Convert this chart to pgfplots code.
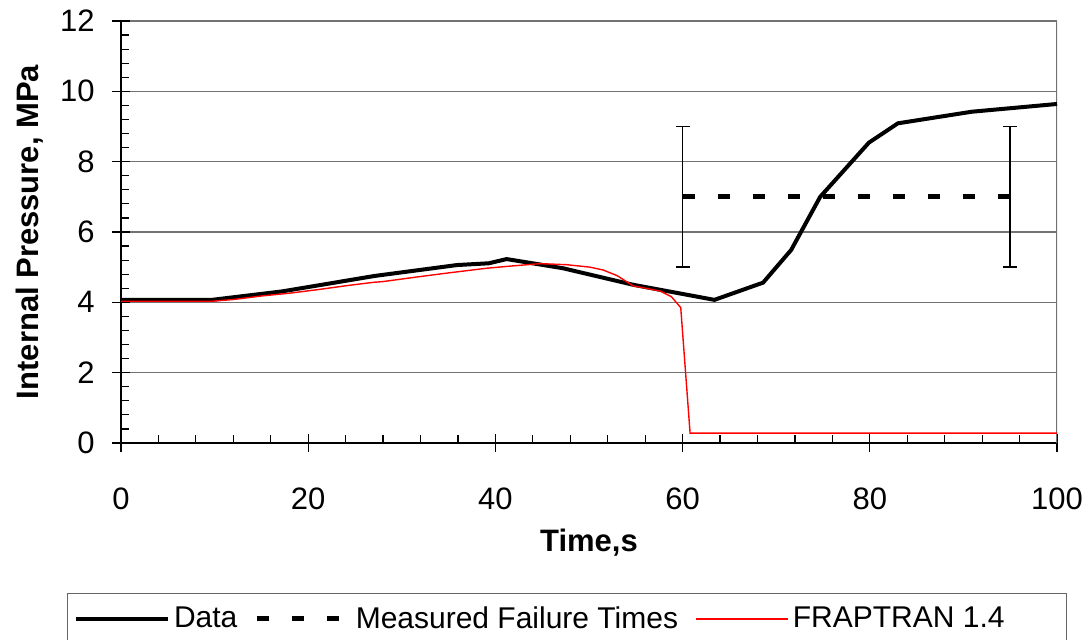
\documentclass[border=0pt]{standalone}
\usepackage{pgfplots}
\pgfplotsset{compat=1.18}
\usepackage{fontspec}
\setmainfont{Liberation Sans}
\begin{document}
\begin{tikzpicture}
\useasboundingbox (0,0) rectangle (543pt,320pt);
\begin{axis}[
  at={(60.5pt,98.5pt)}, anchor=south west,
  scale only axis, width=468pt, height=211pt,
  xmin=0, xmax=100, ymin=0, ymax=12,
  axis lines=left,
  axis line style={-, line width=0.75pt, black},
  xtick={0,20,...,100}, ytick={0,2,...,12},
  minor x tick num=4, minor y tick num=4,
  tick align=center,
  major tick length=9pt, minor tick length=4pt,
  tick style={black, line width=0.6pt},
  every minor x tick/.append style={yshift=2pt},
  every minor y tick/.append style={xshift=2pt},
  ymajorgrids,
  major grid style={black!55, line width=0.6pt},
  /pgf/number format/assume math mode=true,
  tick label style={font=\fontsize{15.5}{18}\selectfont, inner sep=0pt},
  xticklabel style={anchor=center, yshift=-23.25pt},
  yticklabel style={anchor=east, xshift=-8.5pt},
  xlabel={\bfseries Time,s},
  ylabel={\bfseries Internal Pressure, MPa},
  label style={font=\fontsize{15.5}{18}\selectfont},
  xlabel style={at={(axis description cs:0.5,-0.237)}, anchor=center},
  ylabel style={at={(axis description cs:-0.0972,0.5)}, anchor=center},
  legend columns=3,
  legend image code/.code={\draw[#1] (0pt,0pt) -- (46pt,0pt);},
  legend style={at={(axis description cs:-0.0577,-0.3555)}, anchor=north west,
    draw=black!60, line width=0.6pt, inner xsep=3pt, inner ysep=6.5pt,
    font=\fontsize{15}{18}\selectfont,
    nodes={inner sep=0pt},
    /tikz/every odd column/.append style={column sep=2.2pt},
    /tikz/every even column/.append style={column sep=8.5pt}},
]
\draw[black!55, line width=0.6pt] (rel axis cs:1,0) -- (rel axis cs:1,1);

\addplot[black, line width=2pt] coordinates {
(0,4.07) (9.7,4.07) (17.2,4.31) (27.1,4.75) (35.9,5.06) (39.3,5.11) (41.2,5.23)
(47.2,4.97) (54.7,4.50) (63.4,4.07) (68.6,4.56) (71.6,5.49) (74.7,7.0)
(79.9,8.54) (83.0,9.09) (90.9,9.42) (100,9.64)};
\addlegendentry{Data}

\addplot[black, line width=2.5pt, dash pattern=on 6pt off 11.5pt,
  error bars/.cd, y dir=both, y explicit,
  error bar style={solid, line width=0.75pt},
  error mark options={solid, rotate=90, mark size=3.5pt, line width=0.75pt}]
  coordinates {(60,7) +- (0,2) (95,7) +- (0,2)};
\addlegendentry{Measured Failure Times}

\addplot[red, line width=0.7pt] coordinates {
(0,4.03) (9.7,4.03) (12,4.08) (15,4.18) (18,4.26) (21,4.36) (24,4.47) (27,4.57)
(28,4.59) (31.6,4.72) (35.1,4.84) (39.1,4.97) (41.6,5.03) (44.8,5.10) (47.6,5.07)
(50.1,5.00) (51.5,4.92) (53.0,4.76) (54.7,4.47) (57.6,4.32) (58.8,4.16)
(59.8,3.85) (60.8,0.28) (100,0.28)};
\addlegendentry{FRAPTRAN 1.4\hspace*{28pt}}
\end{axis}
\end{tikzpicture}
\end{document}
